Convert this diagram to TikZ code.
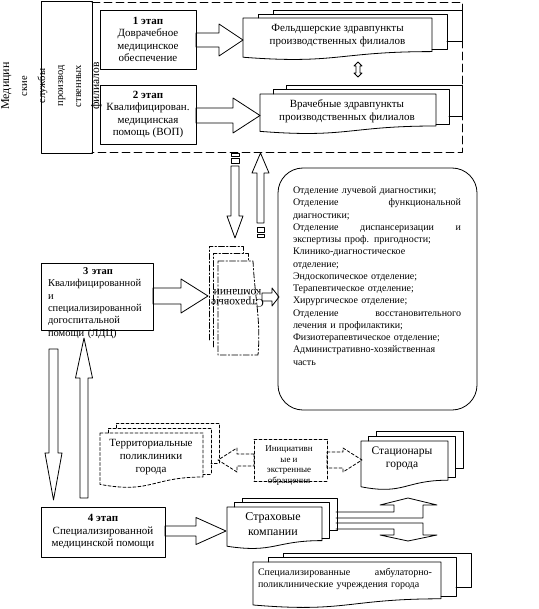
\documentclass[tikz,border=0pt]{standalone}
\usepackage{fontspec}
\setmainfont{Liberation Serif}
\usetikzlibrary{arrows}
\newcommand{\fsz}[2]{\fontsize{#1}{#2}\selectfont}
% document page: style, left, top, right, height
\newcommand{\docpage}[5][]{%
\draw[#1] (#2,#3) -- (#4,#3) -- (#4,{#3+0.8*#5})
  .. controls ({(#2+#4)/2},{#3+0.8*#5}) and ({(#2+#4)/2},{#3+1.107*#5}) .. (#2,{#3+0.934*#5}) -- cycle;}
% stack of three pages: style, left, top, right, height, dx, dy
\newcommand{\multidoc}[7][]{%
\draw[#1] ({#2+#6},#3) -- ({#2+#6},{#3-#7}) -- ({#4+#6},{#3-#7}) -- ({#4+#6},{#3+0.75*#5}) -- (#4,{#3+0.75*#5});
\draw[#1] ({#2+2*#6},{#3-#7}) -- ({#2+2*#6},{#3-2*#7}) -- ({#4+2*#6},{#3-2*#7}) -- ({#4+2*#6},{#3+0.55*#5}) -- ({#4+#6},{#3+0.55*#5});
\docpage[#1]{#2}{#3}{#4}{#5}}
% block arrows: style, start, head base, tip, axis, shaft half, head half
\newcommand{\blkh}[7][]{%
\draw[#1] (#2,{#5-#6}) -- (#3,{#5-#6}) -- (#3,{#5-#7}) -- (#4,#5) -- (#3,{#5+#7}) -- (#3,{#5+#6}) -- (#2,{#5+#6}) -- cycle;}
\newcommand{\blkv}[7][]{%
\draw[#1] ({#5-#6},#2) -- ({#5-#6},#3) -- ({#5-#7},#3) -- (#5,#4) -- ({#5+#7},#3) -- ({#5+#6},#3) -- ({#5+#6},#2) -- cycle;}
\begin{document}
\begin{tikzpicture}[line cap=round,line join=round,x=1pt,y=-1pt,line width=0.8pt,
  stagebox/.style={draw,inner sep=0pt,align=center,font=\fsz{11}{12.5}},
  doctext/.style={inner sep=0pt,align=center,font=\fsz{11}{13}},
  dsh/.style={dash pattern=on 3pt off 2pt},
  outerdash/.style={dash pattern=on 8pt off 4pt},
  dashdot/.style={dash pattern=on 6pt off 2pt on 1.5pt off 2pt}]
\useasboundingbox (0,0) rectangle (538,609);
% top block: services of the branches
\node[draw,minimum width=51,minimum height=152,inner sep=0pt] (srvbox) at (66.5,77) {};
\node[rotate=90,align=center,inner sep=0pt,font=\fsz{10.5}{18}] (srvtext) at (51.5,86)
  {{\fsz{12}{18}Медицин}\\ские\\службы\\производ\\ственных\\{\fsz{11.5}{18}филиалов}};
\draw[outerdash] (92,2) -- (462,2) -- (462,152) -- (92,152);
\node[stagebox,minimum width=96,minimum height=59] (stageA) at (148,39.5)
  {\textbf{1 этап}\\Доврачебное\\медицинское\\обеспечение};
\node[stagebox,minimum width=96,minimum height=59] (stageB) at (148,114.5)
  {\textbf{2 этап}\\Квалифицирован.\\медицинская\\помощь (ВОП)};
\blkh{196}{219}{243}{40}{7}{16}
\blkh{196}{233}{260}{115.5}{7.5}{17.5}
\multidoc{243}{18}{432}{42}{15}{4}
\node[doctext] (feldsh) at (337.5,36) {Фельдшерские здравпункты\\производственных филиалов};
\multidoc{260}{94}{436}{40}{13}{4.5}
\node[doctext] (vrach) at (347,111.5) {Врачебные здравпункты\\производственных филиалов};
\draw (358,62) -- (362,66) -- (360,66) -- (360,73) -- (362,73) -- (358,77) -- (354,73)
  -- (356,73) -- (356,66) -- (354,66) -- cycle;
% arrows under the dashed block
\blkv{166}{216}{238}{235}{4}{8}
\draw (231,153) rectangle (239,156);
\draw (231,158) rectangle (239,163);
\blkv{223}{173}{153}{260.5}{3.5}{8.5}
\draw (257,227) rectangle (264,232);
\draw (257,234) rectangle (264,237);
% list of departments
\node[draw,rounded corners=25,minimum width=199,minimum height=242,inner sep=0pt] (deptbox) at (377.5,289) {};
\node[inner sep=0pt,text width=168,align=left,font=\fsz{10}{12.26}] (depttext) at (377,276)
  {Отделение лучевой диагностики;\\
   Отделение \hfill функциональной\\
   диагностики;\\
   Отделение \hfill диспансеризации \hfill и\\
   экспертизы проф. пригодности;\\
   Клинико-диагностическое\\
   отделение;\\
   Эндоскопическое отделение;\\
   Терапевтическое отделение;\\
   Хирургическое отделение;\\
   Отделение \hfill восстановительного\\
   лечения и профилактики;\\
   Физиотерапевтическое отделение;\\
   Административно-хозяйственная\\
   часть};
% stage 3 and the turned pages
\node[draw,minimum width=112,minimum height=67,inner sep=0pt] (stageC) at (97,296.5) {};
\node[inner sep=0pt,text width=100,align=left,font=\fsz{10.5}{12.4}] (stageCtext) at (98,303)
  {\makebox[100pt]{\textbf{3 этап}}\\Квалифицированной\\и\\специализированной\\догоспитальной\\помощи (ЛДЦ)};
\blkh{153}{181}{208}{296}{8}{17}
\draw[dashdot] (209,340) -- (209,246) -- (243,246) -- (243,253);
\draw[dashdot] (213,347) -- (213,253) -- (248,253) -- (248,261);
\draw[dashdot] (218,261) -- (253,261) .. controls (255,300) and (261,320) .. (258,355) -- (218,355) -- cycle;
\node[rotate=180,inner sep=0pt,align=center,font=\fsz{11.5}{9.5}] (turned) at (237.5,298.5) {Страховые\\компании};
\blkh{262}{272}{279}{297}{4}{9}
% stage 3 <-> stage 4
\blkv{349}{453}{500}{53.5}{4.5}{8.5}
\blkv{498}{378}{338}{84}{4}{8.5}
% city institutions
\multidoc[dsh]{100}{433}{203}{55}{8}{5}
\node[doctext] (terr) at (151,457.5) {Территориальные\\поликлиники\\города};
\node[draw,dsh,minimum width=73,minimum height=42,inner sep=0pt] (initbox) at (290.5,460) {};
\node[inner sep=0pt,align=center,font=\fsz{9}{10.7}] (inittext) at (289,465.5)
  {Инициативн\\ые и\\экстренные\\обращения};
\blkh[dsh]{254}{237}{218}{460}{6}{12}
\blkh[dsh]{327}{343}{362}{460}{8}{12}
\multidoc{361}{441}{448}{49}{7.5}{5}
\node[doctext,font=\fsz{11.5}{13}] (stac) at (402,458.5) {Стационары\\города};
% stage 4
\node[stagebox,minimum width=124,minimum height=50] (stageD) at (103,532)
  {\textbf{4 этап}\\Специализированной\\медицинской помощи};
\blkh{165}{196}{226}{531}{5}{13.5}
\multidoc{227}{507}{322}{42}{7.5}{4.5}
\node[doctext,font=\fsz{12}{15}] (insur) at (273,524.5) {Страховые\\компании};
\draw (336,512) -- (394,512) -- (394,505) -- (380,505) -- (408,498) -- (437,505)
  -- (423,505) -- (423,518) -- (336,518);
\draw (336,523) -- (423,523) -- (423,535) -- (437,535) -- (408,541) -- (380,535)
  -- (394,535) -- (394,529) -- (336,529);
\multidoc{253}{562}{441}{46}{15}{4.5}
\node[inner sep=0pt,text width=174,align=left,font=\fsz{10}{12}] (spec) at (345,579)
  {Специализированные \hfill амбулаторно-\\поликлинические учреждения города};
\end{tikzpicture}
\end{document}
